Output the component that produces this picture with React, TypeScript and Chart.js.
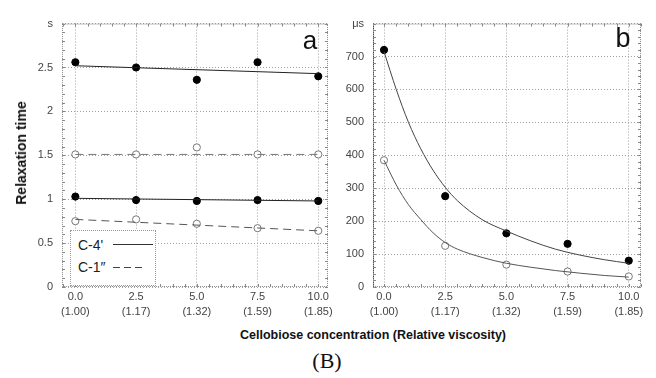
import React, { useEffect, useRef } from 'react';
import { Chart, registerables } from 'chart.js';

Chart.register(...registerables);

// ---------- shared x axis ----------
const concentrations = [0, 2.5, 5, 7.5, 10];
const concentrationLabels = ['0.0', '2.5', '5.0', '7.5', '10.0'];
const viscosityLabels = ['(1.00)', '(1.17)', '(1.32)', '(1.59)', '(1.85)'];

// ---------- panel a (s) ----------
const c4Filled = [2.56, 2.5, 2.36, 2.56, 2.4];
const c4Open = [1.51, 1.51, 1.59, 1.51, 1.51];
const c1Filled = [1.03, 0.99, 0.98, 0.99, 0.98];
const c1Open = [0.75, 0.77, 0.72, 0.67, 0.64];
const linearFitX = [0, 10];
const c4FilledFit = [2.52, 2.43];
const c4OpenFit = [1.51, 1.51];
const c1FilledFit = [1.01, 0.98];
const c1OpenFit = [0.77, 0.64];

// ---------- panel b (μs) ----------
const bFilled = [720, 276, 163, 131, 80];
const bOpen = [385, 125, 68, 47, 32];
const curveX = [0, 0.5, 1, 1.5, 2, 2.5, 3, 4, 5, 6, 7, 8, 9, 10];
const bFilledCurve = [715, 600, 500, 420, 355, 303, 262, 205, 170, 140, 115, 97, 83, 72];
const bOpenCurve = [385, 310, 250, 205, 165, 135, 115, 90, 72, 60, 50, 42, 35, 30];

const FONT = "'Liberation Sans', Arial, Helvetica, sans-serif";

const toPts = (xs: number[], ys: number[]) => xs.map((x, i) => ({ x, y: ys[i] }));

const framePlugin = {
  id: 'frame',
  beforeDatasetsDraw(chart: any, _args: any, opts: any) {
    const { ctx, chartArea: a, scales } = chart;
    const xs = scales.x;
    const ys = scales.y;
    ctx.save();
    ctx.lineWidth = 1;
    ctx.strokeStyle = opts.color || '#888';
    ctx.setLineDash([1, 1]);
    ctx.strokeRect(a.left + 0.5, a.top + 0.5, a.right - a.left - 1, a.bottom - a.top - 1);
    if (opts.leftColor) {
      ctx.strokeStyle = opts.leftColor;
      ctx.beginPath();
      ctx.moveTo(a.left + 0.5, a.top);
      ctx.lineTo(a.left + 0.5, a.bottom);
      ctx.stroke();
    }
    ctx.setLineDash([]);
    ctx.strokeStyle = opts.color || '#888';
    ctx.beginPath();
    const yStep = opts.yMinor;
    for (let v = ys.min; v <= ys.max + 1e-9; v += yStep) {
      const py = Math.round(ys.getPixelForValue(v)) + 0.5;
      ctx.moveTo(a.left, py);
      ctx.lineTo(a.left + 3, py);
      ctx.moveTo(a.right, py);
      ctx.lineTo(a.right - 3, py);
    }
    const xStep = opts.xMinor;
    for (let v = Math.ceil(xs.min / xStep) * xStep; v <= xs.max + 1e-9; v += xStep) {
      const px = Math.round(xs.getPixelForValue(v)) + 0.5;
      ctx.moveTo(px, a.bottom);
      ctx.lineTo(px, a.bottom - 3);
      ctx.moveTo(px, a.top);
      ctx.lineTo(px, a.top + 3);
    }
    ctx.stroke();
    ctx.restore();
  },
};

function xScale(min: number, max: number) {
  return {
    type: 'linear',
    min,
    max,
    afterBuildTicks: (scale: any) => {
      scale.ticks = concentrations.map((v) => ({ value: v }));
    },
    afterFit: (scale: any) => {
      scale.height = 40;
    },
    ticks: {
      autoSkip: false,
      maxRotation: 0,
      padding: 3,
      color: '#444',
      font: { family: FONT, size: 11, lineHeight: 1.35 },
      callback: (_v: any, i: number) => [concentrationLabels[i], viscosityLabels[i]],
    },
    grid: { color: '#a0a0a0', lineWidth: 1, drawTicks: false },
    border: { display: false, dash: [1, 2] },
  };
}

function yScale(max: number, step: number, unit: string) {
  return {
    type: 'linear',
    min: 0,
    max,
    afterFit: (scale: any) => {
      scale.width = 40;
    },
    ticks: {
      stepSize: step,
      padding: 9,
      color: '#444',
      font: { family: FONT, size: 11 },
      callback: (v: any) => (Math.abs(v - max) < 1e-9 ? unit : String(v)),
    },
    grid: { color: '#a0a0a0', lineWidth: 1, drawTicks: false },
    border: { display: false, dash: [1, 2] },
  };
}

const filledPts = (data: { x: number; y: number }[]) => ({
  data,
  showLine: false,
  pointRadius: 3.6,
  pointBackgroundColor: '#000',
  pointBorderColor: '#000',
  pointBorderWidth: 1,
});
const openPts = (data: { x: number; y: number }[]) => ({
  data,
  showLine: false,
  pointRadius: 3.6,
  pointBackgroundColor: '#fff',
  pointBorderColor: '#777',
  pointBorderWidth: 1,
});
const fitLine = (data: { x: number; y: number }[], color: string, dash: number[], smooth = false) => ({
  data,
  showLine: true,
  pointRadius: 0,
  borderColor: color,
  borderWidth: 1,
  borderDash: dash,
  cubicInterpolationMode: smooth ? 'monotone' : 'default',
  fill: false,
});

export default function App() {
  const refA = useRef<HTMLCanvasElement>(null);
  const refB = useRef<HTMLCanvasElement>(null);

  useEffect(() => {
    const common: any = {
      responsive: false,
      animation: false,
      devicePixelRatio: 1,
      layout: { padding: { top: 10, right: 10, left: 0, bottom: 0 } },
      plugins: { legend: { display: false }, tooltip: { enabled: false } },
    };
    const chartA = new Chart(refA.current as HTMLCanvasElement, {
      type: 'scatter',
      data: {
        datasets: [
          fitLine(toPts(linearFitX, c4FilledFit), '#222', []),
          fitLine(toPts(linearFitX, c4OpenFit), '#777', [8, 5]),
          fitLine(toPts(linearFitX, c1FilledFit), '#222', []),
          fitLine(toPts(linearFitX, c1OpenFit), '#555', [8, 5]),
          filledPts(toPts(concentrations, c4Filled)),
          openPts(toPts(concentrations, c4Open)),
          filledPts(toPts(concentrations, c1Filled)),
          openPts(toPts(concentrations, c1Open)),
        ] as any,
      },
      options: {
        ...common,
        scales: { x: xScale(-0.55, 10.4), y: yScale(3, 0.5, 's') },
        plugins: { ...common.plugins, frame: { color: '#888', yMinor: 0.1, xMinor: 0.5 } },
      },
      plugins: [framePlugin],
    } as any);
    const chartB = new Chart(refB.current as HTMLCanvasElement, {
      type: 'scatter',
      data: {
        datasets: [
          fitLine(toPts(curveX, bFilledCurve), '#444', [], true),
          fitLine(toPts(curveX, bOpenCurve), '#555', [], true),
          filledPts(toPts(concentrations, bFilled)),
          openPts(toPts(concentrations, bOpen)),
        ] as any,
      },
      options: {
        ...common,
        scales: { x: xScale(-0.45, 10.5), y: yScale(800, 100, 'μs') },
        plugins: { ...common.plugins, frame: { color: '#888', leftColor: '#222', yMinor: 20, xMinor: 0.5 } },
      },
      plugins: [framePlugin],
    } as any);
    return () => {
      chartA.destroy();
      chartB.destroy();
    };
  }, []);

  const abs = (s: React.CSSProperties): React.CSSProperties => ({ position: 'absolute', ...s });

  return (
    <div style={abs({ left: 0, top: 0, width: 656, height: 378, background: '#fff', fontFamily: FONT, overflow: 'hidden' })}>
      <canvas ref={refA} width={316} height={319} style={abs({ left: 22, top: 8, width: 316, height: 319 })} />
      <canvas ref={refB} width={318} height={319} style={abs({ left: 333, top: 8, width: 318, height: 319 })} />

      {/* legend */}
      <div style={abs({ left: 70, top: 230, width: 86, height: 56, background: '#fff', border: '1px dotted #999', boxSizing: 'border-box' })}>
        <div style={abs({ left: 7, top: 6, fontSize: 14, lineHeight: '16px', color: '#222' })}>C-4'</div>
        <div style={abs({ left: 42, top: 13, width: 40, height: 1, background: '#333' })} />
        <div style={abs({ left: 7, top: 28, fontSize: 14, lineHeight: '16px', color: '#222' })}>C-1″</div>
        <div
          style={abs({
            left: 42,
            top: 36,
            width: 33,
            height: 1,
            background: 'repeating-linear-gradient(to right, #444 0px, #444 7px, transparent 7px, transparent 11px)',
          })}
        />
      </div>

      {/* panel labels */}
      <div style={abs({ left: 310, top: 40, transform: 'translate(-50%,-50%)', fontSize: 26, lineHeight: 1, color: '#111' })}>a</div>
      <div style={abs({ left: 623, top: 38, transform: 'translate(-50%,-50%)', fontSize: 27, lineHeight: 1, color: '#111' })}>b</div>

      {/* axis titles */}
      <div style={abs({ left: 21, top: 153, transform: 'translate(-50%,-50%) rotate(-90deg)', whiteSpace: 'nowrap', fontWeight: 'bold', fontSize: 14, color: '#111' })}>
        Relaxation time
      </div>
      <div style={abs({ left: 373, top: 335, transform: 'translate(-50%,-50%)', whiteSpace: 'nowrap', fontWeight: 'bold', fontSize: 12.5, color: '#111' })}>
        Cellobiose concentration (Relative viscosity)
      </div>
      <div style={abs({ left: 327, top: 361, transform: 'translate(-50%,-50%)', whiteSpace: 'nowrap', fontFamily: "'Liberation Serif', 'Times New Roman', serif", fontSize: 22, color: '#111' })}>
        (B)
      </div>
    </div>
  );
}
